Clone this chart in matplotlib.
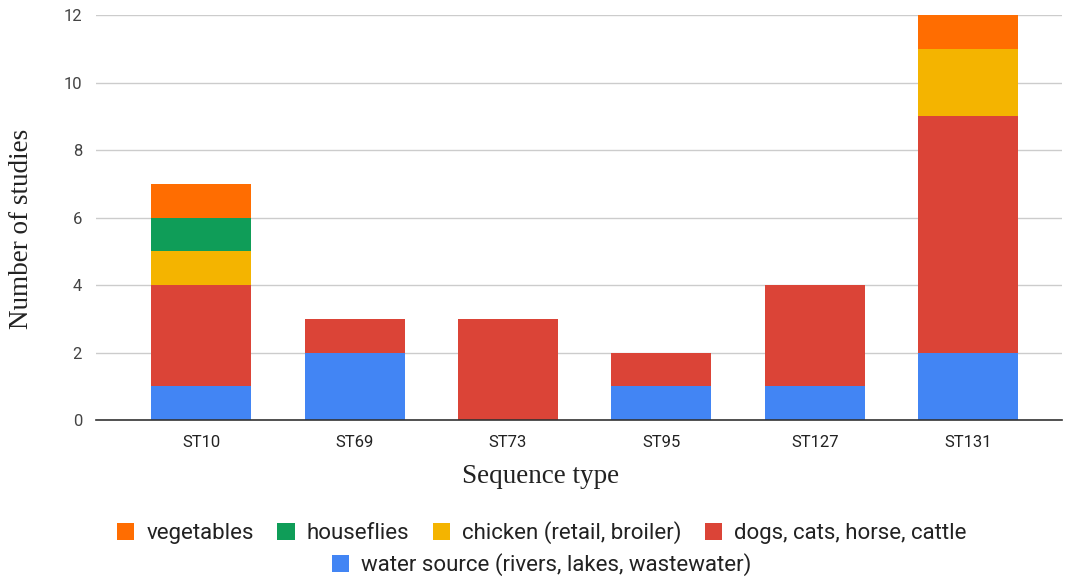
import matplotlib
matplotlib.use("Agg")
import matplotlib.pyplot as plt
from matplotlib.patches import Patch
import numpy as np

sequence_types = ["ST10", "ST69", "ST73", "ST95", "ST127", "ST131"]

water = [1, 2, 0, 1, 1, 2]
dogs = [3, 1, 3, 1, 3, 7]
chicken = [1, 0, 0, 0, 0, 2]
houseflies = [1, 0, 0, 0, 0, 0]
vegetables = [1, 0, 0, 0, 0, 1]

series_names = [
    "water source (rivers, lakes, wastewater)",
    "dogs, cats, horse, cattle",
    "chicken (retail, broiler)",
    "houseflies",
    "vegetables",
]
series_values = [water, dogs, chicken, houseflies, vegetables]
series_colors = ["#4285F4", "#DB4437", "#F4B400", "#0F9D58", "#FF6D01"]

yticks = [0, 2, 4, 6, 8, 10, 12]

fig = plt.figure(figsize=(10.65, 5.84), dpi=100)
ax = fig.add_axes([0.0901, 0.2808, 0.9071, 0.6935])

x = np.arange(len(sequence_types))
bottom = np.zeros(len(sequence_types))
for name, vals, col in zip(series_names, series_values, series_colors):
    v = np.array(vals, dtype=float)
    ax.bar(x, v, bottom=bottom, width=0.652, color=col, label=name, zorder=3,
           linewidth=0)
    bottom += v

ax.set_xlim(-0.686, 5.611)
ax.set_ylim(0, 12)
ax.set_yticks(yticks)
ax.set_yticklabels([str(t) for t in yticks], fontfamily="Roboto", fontsize=12,
                   color="#444444")
ax.set_xticks(x)
ax.set_xticklabels(sequence_types, fontfamily="Roboto", fontsize=12,
                   color="#222222")
ax.tick_params(axis="both", length=0)
ax.tick_params(axis="y", pad=10)
ax.tick_params(axis="x", pad=11)

ax.grid(axis="y", color="#cccccc", linewidth=1, zorder=0)
ax.set_axisbelow(True)
for side in ["top", "right", "left"]:
    ax.spines[side].set_visible(False)
ax.spines["bottom"].set_color("#333333")
ax.spines["bottom"].set_linewidth(1.2)
ax.spines["bottom"].set_zorder(4)

ax.set_ylabel("Number of studies", fontfamily="Liberation Serif", fontsize=19.5,
              color="#222222", va="center", ha="center")
ax.yaxis.set_label_coords(-0.0766, 0.4716)
ax.set_xlabel("Sequence type", fontfamily="Liberation Serif", fontsize=19.5,
              color="#222222", va="center", ha="center")
ax.xaxis.set_label_coords(0.4607, -0.1407)

# Legend: first row with four entries, second row centred with one entry
handles = {n: Patch(facecolor=c, edgecolor="none") for n, c in zip(series_names, series_colors)}
row1 = ["vegetables", "houseflies", "chicken (retail, broiler)", "dogs, cats, horse, cattle"]
row2 = ["water source (rivers, lakes, wastewater)"]
leg_kw = dict(frameon=False, handlelength=0.77, handleheight=0.77,
              handletextpad=0.55, columnspacing=1.05,
              prop={"family": "Roboto", "size": 16})
leg1 = fig.legend([handles[n] for n in row1], row1, ncol=4, loc="center",
                  bbox_to_anchor=(542 / 1065, 1 - 533 / 584), **leg_kw)
for t in leg1.get_texts():
    t.set_color("#222222")
leg2 = fig.legend([handles[n] for n in row2], row2, ncol=1, loc="center",
                  bbox_to_anchor=(542 / 1065, 1 - 565 / 584), **leg_kw)
for t in leg2.get_texts():
    t.set_color("#222222")

fig.savefig("out.png", dpi=100, facecolor="white")
